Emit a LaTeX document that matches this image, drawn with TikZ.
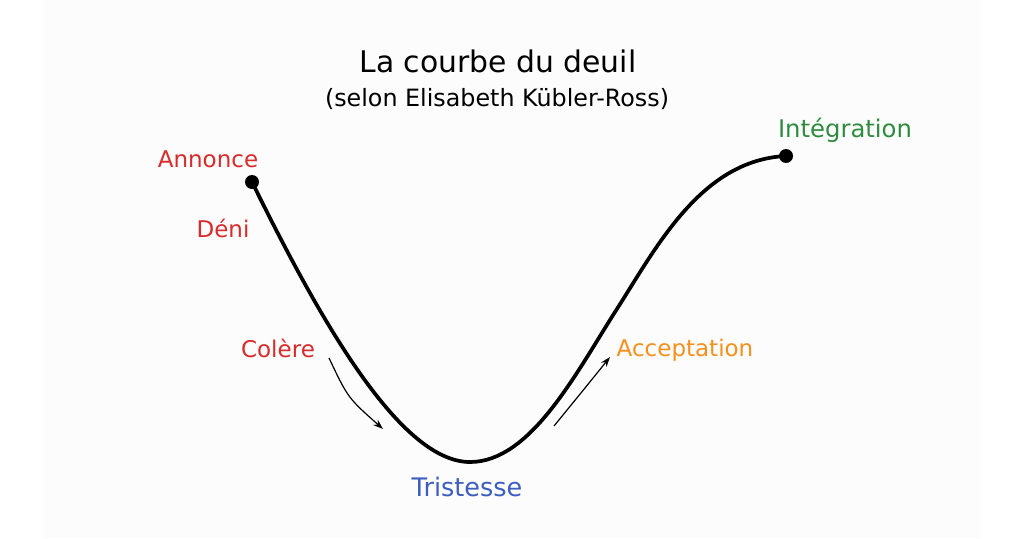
\documentclass[tikz,border=0pt]{standalone}
\usepackage{fontspec}
\setmainfont{DejaVu Sans}
\usepackage{xcolor}
\usepackage{tikz}
\usetikzlibrary{positioning, arrows.meta, calc}

\definecolor{rouge}{HTML}{D92B2B}
\definecolor{vert}{HTML}{2F8C3F}
\definecolor{bleu}{HTML}{3D5EC0}
\definecolor{orange}{HTML}{F5901E}
\definecolor{fond}{HTML}{FCFCFC}

\begin{document}
\begin{tikzpicture}[
    x=1pt, y=-1pt,
    label/.style={anchor=base, inner sep=0pt, font=\fontsize{23}{27}\selectfont},
    dot/.style={circle, fill=black, inner sep=0pt, minimum size=14pt},
    curve/.style={line width=3.7pt, line cap=round},
    arrow/.style={-{Stealth[length=10pt, width=7pt]}, line width=1.2pt}
    ]
\useasboundingbox (0,0) rectangle (1024,538);
\fill[white] (0,0) rectangle (1024,538);
\fill[fond] (43,0) rectangle (981,538);

% titre
\node[label, font=\fontsize{29.8}{34}\selectfont] (titre) at (498,72) {La courbe du deuil};
\node[label, font=\fontsize{23.8}{28}\selectfont] (sous) at (497,106) {(selon Elisabeth Kübler-Ross)};

% points de la courbe
\coordinate (debut) at (252,182);
\coordinate (bas) at (470,462);
\coordinate (milieu) at (615,312);
\coordinate (fin) at (786,156);

\draw[curve] (debut) .. controls (320,320) and (400,462) .. (bas)
    .. controls (530,462) and (575,375) .. (milieu)
    .. controls (655,250) and (700,160) .. (fin);

\node[dot] (annonce) at (debut) {};
\node[dot] (integration) at (fin) {};

% etapes
\node[label, text=rouge] (tAnnonce) at (208,167) {Annonce};
\node[label, text=rouge] (tDeni) at (223,237) {Déni};
\node[label, text=rouge] (tColere) at (278,357) {Colère};
\node[label, text=bleu, font=\fontsize{25.5}{30}\selectfont] (tTristesse) at (467,496) {Tristesse};
\node[label, text=orange] (tAcceptation) at (685,356) {Acceptation};
\node[label, text=vert, font=\fontsize{24.3}{29}\selectfont] (tIntegration) at (845,137) {Intégration};

% fleches
\coordinate (c1) at (329,358);
\coordinate (c2) at (383,429);
\coordinate (a1) at (554,426);
\coordinate (a2) at (610,357);
\draw[arrow] (c1) .. controls (348,398) .. (c2);
\draw[arrow] (a1) .. controls (585,388) .. (a2);
\end{tikzpicture}
\end{document}
